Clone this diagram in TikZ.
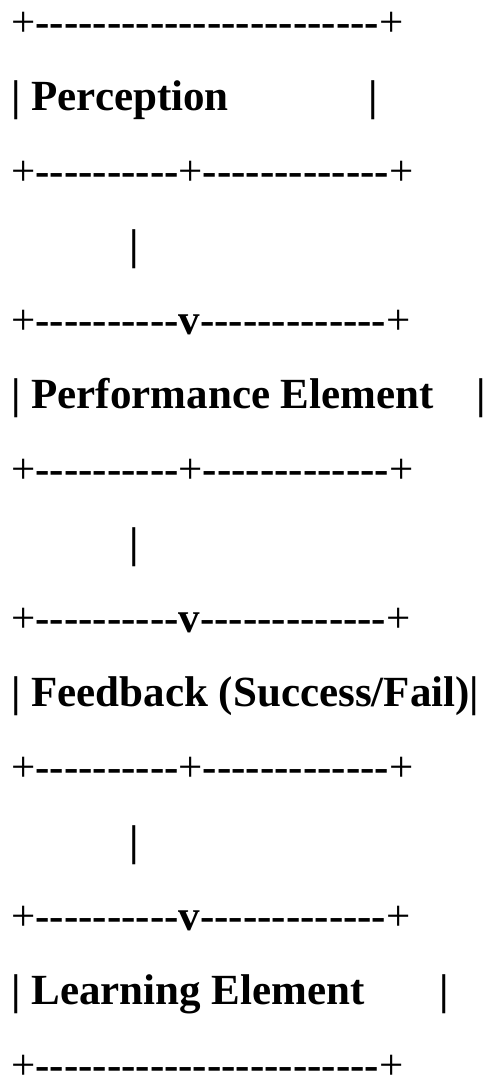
\documentclass[tikz,border=0pt]{standalone}
\usepackage{fontspec}
\setmainfont{Liberation Serif}[Ligatures=TeXOff]
\newcommand\crs{{\mdseries+}}

\begin{document}
\begin{tikzpicture}[x=1pt,y=-1pt,
  row/.style={anchor=base west,inner sep=0pt,font=\fontsize{43}{50}\selectfont\bfseries}]
\useasboundingbox (0,0) rectangle (483,1076);
\node[row] (top) at (11,36) {\crs------------------------\crs};
\node[row] (perc) at (11,110.5) {| Perception\ \ \ \ \ \ \ \ \ \ \ \ \ |};
\node[row] (split1) at (11,185) {\crs----------\crs-------------\crs};
\node[row] (link1) at (11,259.5) {\ \ \ \ \ \ \ \ \ \ \ |};
\node[row] (join1) at (11,334) {\crs----------v-------------\crs};
\node[row] (perf) at (11,408.5) {| Performance Element\ \ \ \ |};
\node[row] (split2) at (11,483) {\crs----------\crs-------------\crs};
\node[row] (link2) at (11,557.5) {\ \ \ \ \ \ \ \ \ \ \ |};
\node[row] (join2) at (11,632) {\crs----------v-------------\crs};
\node[row] (feed) at (11,706.5) {| Feedback (Success/Fail)|};
\node[row] (split3) at (11,781) {\crs----------\crs-------------\crs};
\node[row] (link3) at (11,855.5) {\ \ \ \ \ \ \ \ \ \ \ |};
\node[row] (join3) at (11,930) {\crs----------v-------------\crs};
\node[row] (learn) at (11,1004.5) {| Learning Element\ \ \ \ \ \ \ |};
\node[row] (bottom) at (11,1079) {\crs------------------------\crs};
\end{tikzpicture}
\end{document}
